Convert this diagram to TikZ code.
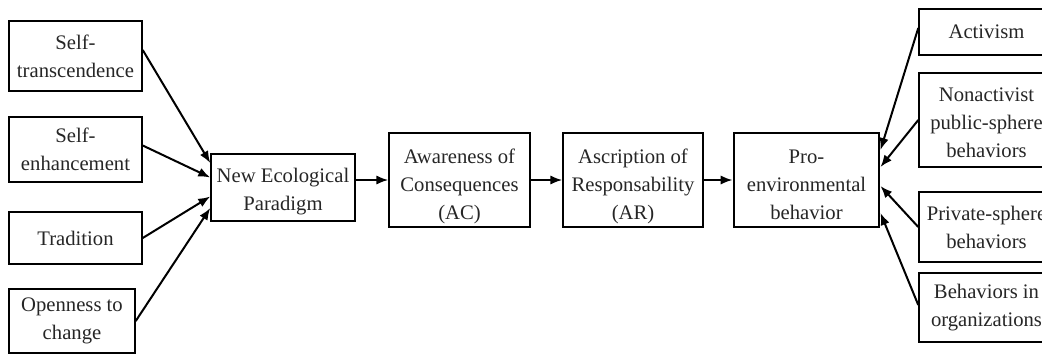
\documentclass[tikz,border=0pt]{standalone}
\usepackage{fontspec}
\setmainfont{Liberation Serif}
\usetikzlibrary{arrows.meta,calc}
\begin{document}
\begin{tikzpicture}[x=0.75pt,y=-0.75pt,
 box/.style={draw, line width=1.1pt, fill=white, align=center, inner sep=0pt,
   font=\fontsize{15.5pt}{21pt}\selectfont, text=black!85},
 txt/.style={align=center, inner sep=0pt, font=\fontsize{15.5pt}{21pt}\selectfont, text=black!85},
 arr/.style={line width=1.5pt, -{Latex[length=9pt,width=7pt]}}]
\useasboundingbox (0,0) rectangle (1042,354);
\clip (0,0) rectangle (1042,354);
\fill[white] (0,0) rectangle (1042,354);
% left column
\node[box, minimum width=99.75pt, minimum height=52.5pt] (st) at (75.5,56) {Self-\\transcendence};
\node[box, minimum width=99.75pt, minimum height=48.75pt] (se) at (75.5,149.5) {Self-\\enhancement};
\node[box, minimum width=99.75pt, minimum height=39pt] (tr) at (75.5,238) {Tradition};
\node[box, minimum width=94.5pt, minimum height=48pt] (op) at (72,321) {Openness to\\change};
% chain
\node[box, minimum width=108pt, minimum height=50.25pt] (nep) at (283,187.5) {};
\node[txt] (nepT) at ($(nep.center)+(0,4)$) {New Ecological\\Paradigm};
\node[box, minimum width=105.75pt, minimum height=70.5pt] (ac) at (459.5,180) {};
\node[txt] (acT) at ($(ac.center)+(0,6)$) {Awareness of\\Consequences\\(AC)};
\node[box, minimum width=105pt, minimum height=70.5pt] (ar) at (633,180) {};
\node[txt] (arT) at ($(ar.center)+(0,6)$) {Ascription of\\Responsability\\(AR)};
\node[box, line width=2.2pt, minimum width=108.75pt, minimum height=70.5pt] (peb) at (806.5,180) {};
\node[txt] (pebT) at ($(peb.center)+(0,5)$) {Pro-\\environmental\\behavior};
% right column
\node[box, minimum width=101.25pt, minimum height=34.5pt] (act) at (986.5,32) {Activism};
\node[box, minimum width=101.25pt, minimum height=70.5pt] (non) at (986.5,120) {};
\node[txt] (nonT) at ($(non.center)+(0,3)$) {Nonactivist\\public-sphere\\behaviors};
\node[box, minimum width=101.25pt, minimum height=52.5pt] (priv) at (986.5,227) {Private-sphere\\behaviors};
\node[box, minimum width=101.25pt, minimum height=51.75pt] (org) at (986.5,307.5) {Behaviors in\\organizations};
% arrows into NEP
\draw[arr] ($(st.east)+(0,-6)$) -- ($(nep.west)+(0,-24.5)$);
\draw[arr] ($(se.east)+(0,-4)$) -- ($(nep.west)+(0,-10)$);
\draw[arr] (tr.east) -- ($(nep.west)+(0,9)$);
\draw[arr] (op.east) -- ($(nep.west)+(0,20.5)$);
% chain arrows
\draw[arr] (nep.east |- ac.west) -- (ac.west);
\draw[arr] (ac.east) -- (ar.west);
\draw[arr] (ar.east) -- (peb.west);
% arrows into PEB
\draw[arr] ($(act.west)+(0,-4)$) -- ($(peb.east)+(0,-30)$);
\draw[arr] (non.west) -- ($(peb.east)+(0,-13)$);
\draw[arr] (priv.west) -- ($(peb.east)+(0,6)$);
\draw[arr] ($(org.west)+(0,-2.5)$) -- ($(peb.east)+(0,33)$);
\end{tikzpicture}
\end{document}
